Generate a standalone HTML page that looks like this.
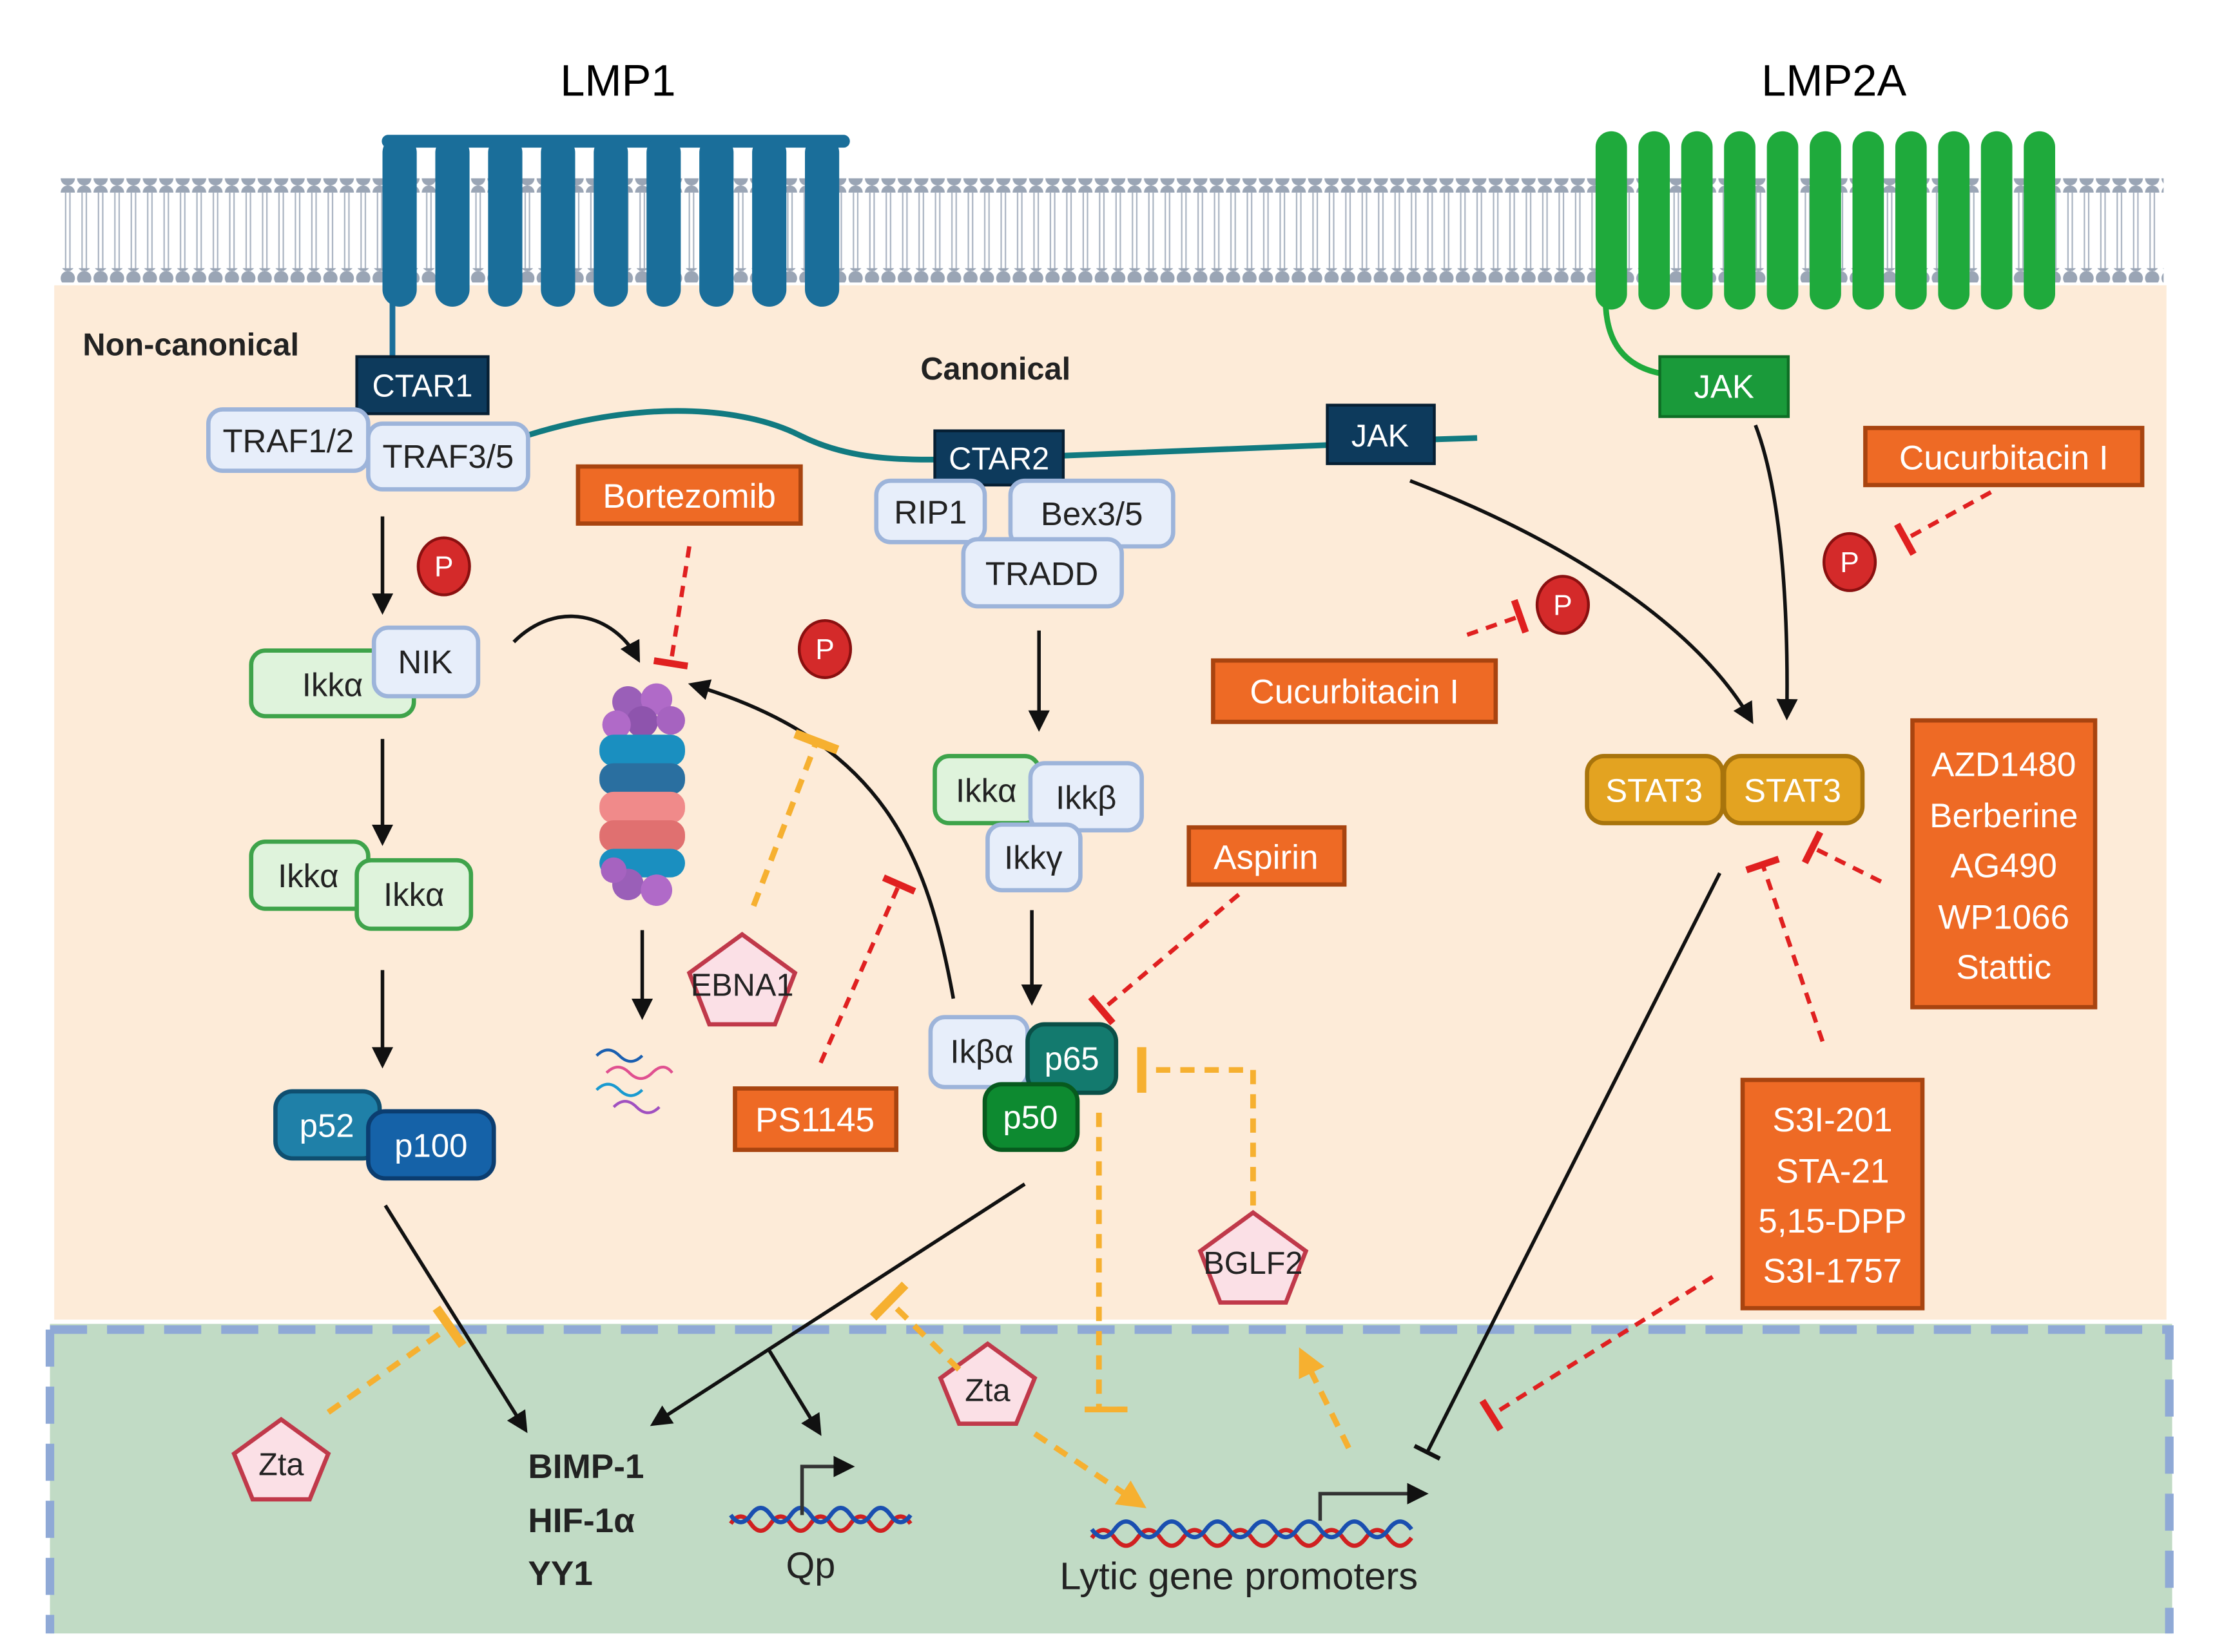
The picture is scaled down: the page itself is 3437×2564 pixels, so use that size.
<!DOCTYPE html>
<html><head><meta charset="utf-8"><style>
html,body{margin:0;padding:0;background:#fff}
svg{display:block}
text{font-family:"Liberation Sans",sans-serif}
</style></head><body>
<svg width="3437" height="2564" viewBox="0 0 1552 1158" preserveAspectRatio="none" xmlns="http://www.w3.org/2000/svg">
<defs>
<marker id="ah" viewBox="0 0 10 10" refX="8" refY="5" markerWidth="6" markerHeight="6" orient="auto"><path d="M0,0L10,5L0,10z" fill="#111"/></marker>
<marker id="aho" viewBox="0 0 10 10" refX="8" refY="5" markerWidth="5" markerHeight="5" orient="auto"><path d="M0,0L10,5L0,10z" fill="#f6b030"/></marker>
<marker id="tr" viewBox="0 0 10 20" refX="5" refY="10" markerWidth="4" markerHeight="8" orient="auto"><path d="M5,0V20" stroke="#e02020" stroke-width="4"/></marker>
<marker id="to" viewBox="0 0 10 20" refX="5" refY="10" markerWidth="4" markerHeight="8" orient="auto"><path d="M5,0V20" stroke="#f6b030" stroke-width="4"/></marker>
<marker id="tk" viewBox="0 0 10 20" refX="5" refY="10" markerWidth="4" markerHeight="8" orient="auto"><path d="M5,0V20" stroke="#111" stroke-width="3"/></marker>
<pattern id="mem" x="42" y="0" width="11.5" height="10" patternUnits="userSpaceOnUse"><line x1="4" y1="0" x2="4" y2="10" stroke="#aab4c2" stroke-width="1"/><line x1="7" y1="0" x2="7" y2="10" stroke="#aab4c2" stroke-width="1"/></pattern>
<pattern id="dots" x="42" y="0" width="11.5" height="10" patternUnits="userSpaceOnUse"><circle cx="5.5" cy="5" r="5" fill="#9aa5b5"/></pattern>
</defs>
<rect x="38" y="200" width="1480" height="725" fill="#fdebd8"/>
<rect x="35" y="928" width="1487" height="217" fill="#c1dbc5"/>
<path d="M35,932H1520V1145M35,932V1145" fill="none" stroke="#8fa9d6" stroke-width="6" stroke-dasharray="26,14"/>
<!-- membrane -->
<rect x="42" y="135" width="1474" height="55" fill="url(#mem)"/>
<rect x="42" y="125" width="1474" height="10" fill="url(#dots)"/>
<rect x="42" y="188" width="1474" height="10" fill="url(#dots)"/>
<text x="433" y="67" font-size="31" text-anchor="middle">LMP1</text>
<text x="1285" y="67" font-size="31" text-anchor="middle">LMP2A</text>
<!-- LMP1 -->
<g fill="#1a6e9a" stroke="#1a6e9a">
<rect x="268" y="95" width="327" height="8" rx="4"/>
<g stroke="none">
<rect x="268" y="95" width="24" height="120" rx="12"/><rect x="305" y="95" width="24" height="120" rx="12"/><rect x="342" y="95" width="24" height="120" rx="12"/><rect x="379" y="95" width="24" height="120" rx="12"/><rect x="416" y="95" width="24" height="120" rx="12"/><rect x="453" y="95" width="24" height="120" rx="12"/><rect x="490" y="95" width="24" height="120" rx="12"/><rect x="527" y="95" width="24" height="120" rx="12"/><rect x="564" y="95" width="24" height="120" rx="12"/>
</g></g>
<path d="M275,210V250" stroke="#1a6e9a" stroke-width="4"/>
<!-- LMP2A -->
<g fill="#1faa3c">
<rect x="1118" y="92" width="22" height="125" rx="11"/><rect x="1148" y="92" width="22" height="125" rx="11"/><rect x="1178" y="92" width="22" height="125" rx="11"/><rect x="1208" y="92" width="22" height="125" rx="11"/><rect x="1238" y="92" width="22" height="125" rx="11"/><rect x="1268" y="92" width="22" height="125" rx="11"/><rect x="1298" y="92" width="22" height="125" rx="11"/><rect x="1328" y="92" width="22" height="125" rx="11"/><rect x="1358" y="92" width="22" height="125" rx="11"/><rect x="1388" y="92" width="22" height="125" rx="11"/><rect x="1418" y="92" width="22" height="125" rx="11"/>
</g>
<path d="M1125,210 Q1125,255 1165,262" fill="none" stroke="#1faa3c" stroke-width="4"/>
<!-- teal line -->
<path d="M370,305 C450,280 520,285 560,305 C600,325 640,322 680,322 L930,312 M1005,308 L1035,307" fill="none" stroke="#117a80" stroke-width="4"/>
<text x="58" y="249" font-size="22" font-weight="bold" fill="#222">Non-canonical</text>
<text x="645" y="266" font-size="22" font-weight="bold" fill="#222">Canonical</text>
<!-- navy boxes -->
<g fill="#0d3a5c" stroke="#061f33" stroke-width="2">
<rect x="250" y="250" width="92" height="40"/><rect x="655" y="302" width="90" height="38"/><rect x="930" y="284" width="75" height="41"/>
</g>
<g fill="#fff" font-size="22" text-anchor="middle">
<text x="296" y="278">CTAR1</text><text x="700" y="329">CTAR2</text><text x="967" y="313">JAK</text>
</g>
<rect x="1163" y="250" width="90" height="42" fill="#1a9a3a" stroke="#0e6e25" stroke-width="2"/>
<text x="1208" y="279" font-size="23" fill="#fff" text-anchor="middle">JAK</text>
<!-- light blue boxes -->
<g fill="#e7eefa" stroke="#9db4da" stroke-width="3">
<rect x="146" y="287" width="112" height="43" rx="10"/><rect x="258" y="297" width="112" height="46" rx="10"/>
<rect x="614" y="337" width="76" height="43" rx="10"/><rect x="708" y="337" width="114" height="46" rx="10"/><rect x="675" y="378" width="111" height="47" rx="10"/>
</g>
<!-- light green boxes -->
<g fill="#dff3dc" stroke="#3ea34a" stroke-width="3">
<rect x="176" y="456" width="114" height="46" rx="10"/>
<rect x="176" y="590" width="82" height="47" rx="10"/><rect x="250" y="603" width="80" height="48" rx="10"/>
<rect x="655" y="530" width="73" height="47" rx="10"/>
</g>
<g fill="#e7eefa" stroke="#9db4da" stroke-width="3">
<rect x="262" y="440" width="73" height="48" rx="10"/>
<rect x="722" y="535" width="78" height="47" rx="10"/><rect x="692" y="578" width="65" height="46" rx="10"/>
<rect x="652" y="713" width="68" height="49" rx="10"/>
</g>
<g font-size="23" fill="#222" text-anchor="middle">
<text x="202" y="317">TRAF1/2</text><text x="314" y="328">TRAF3/5</text>
<text x="652" y="367">RIP1</text><text x="765" y="368">Bex3/5</text><text x="730" y="410">TRADD</text>
<text x="233" y="488">Ikkα</text><text x="298" y="472">NIK</text>
<text x="216" y="622">Ikkα</text><text x="290" y="635">Ikkα</text>
<text x="691" y="562">Ikkα</text><text x="761" y="567">Ikkβ</text><text x="724" y="609">Ikkγ</text>
<text x="688" y="745">Ikβα</text>
</g>
<!-- dark protein boxes -->
<rect x="193" y="765" width="73" height="47" rx="12" fill="#1f80a8" stroke="#0f4f70" stroke-width="3"/>
<rect x="258" y="779" width="88" height="47" rx="12" fill="#1562a8" stroke="#0b3d70" stroke-width="3"/>
<rect x="720" y="718" width="62" height="48" rx="12" fill="#137a6e" stroke="#0a4f47" stroke-width="3"/>
<rect x="690" y="760" width="65" height="46" rx="12" fill="#0d8a30" stroke="#075a1e" stroke-width="3"/>
<g font-size="23" fill="#fff" text-anchor="middle">
<text x="229" y="797">p52</text><text x="302" y="811">p100</text><text x="751" y="750">p65</text><text x="722" y="791">p50</text>
</g>
<!-- STAT3 -->
<rect x="1112" y="530" width="95" height="47" rx="12" fill="#e3a321" stroke="#a8740c" stroke-width="3"/>
<rect x="1208" y="530" width="97" height="47" rx="12" fill="#e3a321" stroke="#a8740c" stroke-width="3"/>
<text x="1159" y="562" font-size="23" fill="#fff" text-anchor="middle">STAT3</text>
<text x="1256" y="562" font-size="23" fill="#fff" text-anchor="middle">STAT3</text>
<!-- drug boxes -->
<g fill="#ee6a25" stroke="#a84410" stroke-width="3">
<rect x="405" y="327" width="156" height="40"/><rect x="850" y="463" width="198" height="43"/><rect x="1307" y="300" width="194" height="40"/>
<rect x="833" y="580" width="109" height="40"/><rect x="515" y="763" width="113" height="43"/>
<rect x="1340" y="505" width="128" height="201"/><rect x="1221" y="757" width="126" height="160"/>
</g>
<g font-size="24" fill="#fff" text-anchor="middle">
<text x="483" y="356">Bortezomib</text><text x="949" y="493">Cucurbitacin I</text><text x="1404" y="329">Cucurbitacin I</text>
<text x="887" y="609">Aspirin</text><text x="571" y="793">PS1145</text>
<text x="1404" y="544">AZD1480</text><text x="1404" y="580">Berberine</text><text x="1404" y="615">AG490</text><text x="1404" y="651">WP1066</text><text x="1404" y="686">Stattic</text>
<text x="1284" y="793">S3I-201</text><text x="1284" y="829">STA-21</text><text x="1284" y="864">5,15-DPP</text><text x="1284" y="899">S3I-1757</text>
</g>
<!-- P circles -->
<g fill="#d42a2a" stroke="#8a1010" stroke-width="2">
<ellipse cx="311" cy="397" rx="18" ry="20"/><ellipse cx="578" cy="455" rx="18" ry="20"/><ellipse cx="1095" cy="424" rx="18" ry="20"/><ellipse cx="1296" cy="394" rx="18" ry="20"/>
</g>
<g fill="#fff" font-size="20" text-anchor="middle">
<text x="311" y="404">P</text><text x="578" y="462">P</text><text x="1095" y="431">P</text><text x="1296" y="401">P</text>
</g>
<!-- proteasome -->
<g>
<circle cx="440" cy="492" r="11" fill="#9a5fb8"/><circle cx="460" cy="490" r="11" fill="#b06ac8"/><circle cx="450" cy="506" r="11" fill="#8e54ad"/><circle cx="470" cy="505" r="10" fill="#a663c0"/><circle cx="432" cy="508" r="10" fill="#b06ac8"/>
<rect x="420" y="515" width="60" height="22" rx="10" fill="#1a8fc0"/><rect x="420" y="535" width="60" height="22" rx="10" fill="#2a6fa0"/>
<rect x="420" y="555" width="60" height="22" rx="10" fill="#f08a8a"/><rect x="420" y="575" width="60" height="22" rx="10" fill="#e07070"/>
<rect x="420" y="595" width="60" height="20" rx="10" fill="#1a8fc0"/>
<circle cx="440" cy="620" r="11" fill="#9a5fb8"/><circle cx="460" cy="624" r="11" fill="#b06ac8"/><circle cx="430" cy="610" r="9" fill="#a663c0"/>
</g>
<!-- peptides -->
<g fill="none" stroke-width="2">
<path d="M418,740 q8,-8 16,0 t16,0" stroke="#1a5fb0"/><path d="M425,752 q8,-8 16,0 t16,0 t14,0" stroke="#e05090"/><path d="M418,764 q8,-8 16,0 t16,0" stroke="#1a9ad0"/><path d="M430,776 q8,-8 16,0 t16,0" stroke="#a050c0"/>
</g>
<!-- pentagons -->
<g fill="#fbe0e6" stroke="#c0394a" stroke-width="3">
<path d="M520,655 L557,682 L543,718 L497,718 L483,682Z"/>
<path d="M878,850 L915,877 L901,913 L855,913 L841,877Z"/>
<path d="M692,942 L725,966 L712,998 L672,998 L659,966Z"/>
<path d="M197,995 L230,1019 L217,1051 L177,1051 L164,1019Z"/>
</g>
<g font-size="22" fill="#222" text-anchor="middle">
<text x="520" y="698">EBNA1</text><text x="878" y="893">BGLF2</text><text x="692" y="982">Zta</text><text x="197" y="1034">Zta</text>
</g>
<!-- black arrows -->
<g fill="none" stroke="#111" stroke-width="2.5" marker-end="url(#ah)">
<path d="M268,362V428"/><path d="M268,518V590"/><path d="M268,680V746"/>
<path d="M360,450 C390,420 430,430 447,462"/>
<path d="M450,652V712"/>
<path d="M668,700 C650,600 620,520 485,480"/>
<path d="M728,442V510"/><path d="M723,638V702"/>
<path d="M988,337 C1100,380 1190,440 1227,505"/>
<path d="M1230,298 C1250,350 1253,440 1252,502"/>
<path d="M270,845L368,1002"/>
<path d="M718,830L458,998"/>
<path d="M538,945L574,1004"/>
</g>
<path d="M1205,612L1000,1018" stroke="#111" stroke-width="2.5" fill="none" marker-end="url(#tk)"/>
<!-- red dashed inhibitions -->
<g fill="none" stroke="#e02020" stroke-width="3" stroke-dasharray="8,6" marker-end="url(#tr)">
<path d="M483,383L470,465"/>
<path d="M575,745L630,620"/>
<path d="M868,627L772,708"/>
<path d="M1028,445L1065,432"/>
<path d="M1395,345L1335,378"/>
<path d="M1318,618L1270,594"/>
<path d="M1277,730L1235,606"/>
<path d="M1200,895L1045,992"/>
</g>
<!-- orange dashed -->
<g fill="none" stroke="#f6b030" stroke-width="4" stroke-dasharray="10,7">
<path d="M528,635L572,520" marker-end="url(#to)"/>
<path d="M230,990L315,930" marker-end="url(#to)"/>
<path d="M878,845V750H800" marker-end="url(#to)"/>
<path d="M770,780V988H788" />
<path d="M760,988H790" stroke-dasharray="none"/>
<path d="M672,960L623,912" marker-end="url(#to)"/>
<path d="M725,1005L800,1055" marker-end="url(#aho)"/>
<path d="M945,1015L912,948" marker-end="url(#aho)"/>
</g>
<!-- DNA -->
<g fill="none" stroke-width="3">
<path d="M512,1068 q7,-10 14,0 t14,0 t14,0 t14,0 t14,0 t14,0 t14,0 t14,0 t14,0" stroke="#d02020"/>
<path d="M512,1062 q7,10 14,0 t14,0 t14,0 t14,0 t14,0 t14,0 t14,0 t14,0 t14,0" stroke="#1a4fb0"/>
<path d="M765,1078 q8,-11 16,0 t16,0 t16,0 t16,0 t16,0 t16,0 t16,0 t16,0 t16,0 t16,0 t16,0 t16,0 t16,0 t16,0" stroke="#d02020"/>
<path d="M765,1072 q8,11 16,0 t16,0 t16,0 t16,0 t16,0 t16,0 t16,0 t16,0 t16,0 t16,0 t16,0 t16,0 t16,0 t16,0" stroke="#1a4fb0"/>
</g>
<path d="M562,1062V1028H596" fill="none" stroke="#333" stroke-width="2.5" marker-end="url(#ah)"/>
<path d="M925,1066V1047H998" fill="none" stroke="#333" stroke-width="2.5" marker-end="url(#ah)"/>
<g font-size="24" font-weight="bold" fill="#222">
<text x="370" y="1036">BIMP-1</text><text x="370" y="1074">HIF-1α</text><text x="370" y="1111">YY1</text>
</g>
<text x="568" y="1106" font-size="26" fill="#222" text-anchor="middle">Qp</text>
<text x="868" y="1114" font-size="27" fill="#222" text-anchor="middle">Lytic gene promoters</text>
</svg>
</body></html>
